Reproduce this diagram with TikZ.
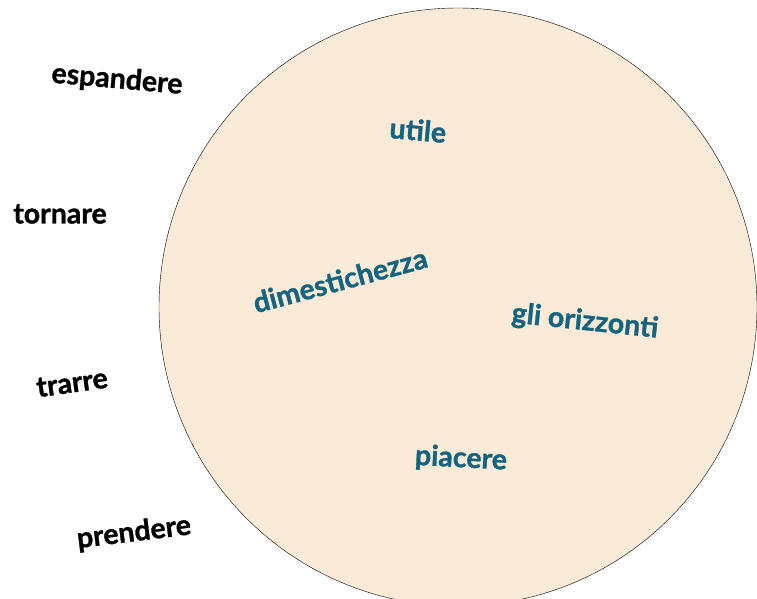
\documentclass[tikz,border=0pt]{standalone}
\usepackage{fontspec}
\setmainfont{Lato}[BoldFeatures={FakeBold=1.2}]
\definecolor{sand}{HTML}{FAEBD8}
\definecolor{petrol}{HTML}{14647F}
\begin{document}
\begin{tikzpicture}[x=1pt,y=-1pt]
        \tikzstyle{verb}=[font=\fontsize{28.5}{31}\selectfont\bfseries,text=black]
        \tikzstyle{word}=[font=\fontsize{28.5}{31}\selectfont\bfseries,text=petrol]
       \begin{scope}
         \clip (0,0) rectangle (757,598);
         \useasboundingbox (0,0) rectangle (757,598);
         \draw[fill=sand,thin] (458,307) circle (299pt);
         % verbi fuori dal cerchio
         \node [verb,rotate=-5] (espandere) at (117,80) {espandere};
         \node [verb] (tornare) at (60,214) {tornare};
         \node [verb,rotate=8] (trarre) at (72,383) {trarre};
         \node [verb,rotate=7] (prendere) at (134,533) {prendere};
         % parole dentro
         \node [word,rotate=-5] (utile) at (418,130) {utile};
         \node [word,rotate=15] (dimest) at (340,280) {dimestichezza};
         \node [word,rotate=-6] (orizz) at (585,322) {gli orizzonti};
         \node [word,rotate=-3] (piacere) at (461,459) {piacere};
        \end{scope}
      \end{tikzpicture}
\end{document}
